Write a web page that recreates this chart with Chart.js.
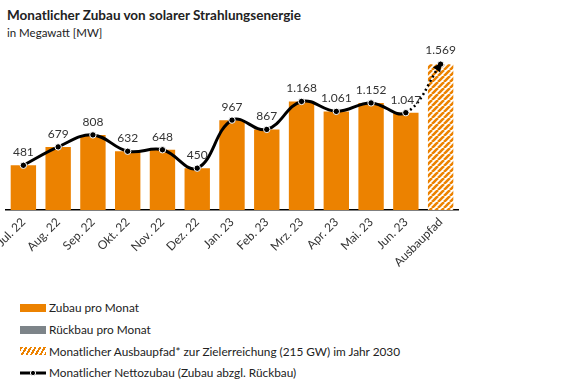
<!DOCTYPE html>
<html>
<head>
<meta charset="utf-8">
<script src="https://cdn.jsdelivr.net/npm/chart.js@4/dist/chart.umd.min.js"></script>
<style>
  body { margin: 0; width: 567px; height: 382px; background: #fff; font-family: Lato, "Open Sans", sans-serif; color: #222; position: relative; overflow: hidden; }
  #title { position: absolute; left: 7px; top: 7px; font-size: 13.5px; font-weight: bold; }
  #sub { position: absolute; left: 7px; top: 26px; font-size: 11.5px; }
  #wrap { position: absolute; left: 0; top: 40px; width: 470px; height: 232px; }
  #legend { position: absolute; left: 20px; top: 297px; font-size: 11.8px; }
  .item { display: flex; align-items: center; height: 21.7px; }
  .sw { width: 26px; height: 8px; margin-right: 3px; }
</style>
</head>
<body>
<div id="title">Monatlicher Zubau von solarer Strahlungsenergie</div>
<div id="sub">in Megawatt [MW]</div>
<div id="wrap"><canvas id="c"></canvas></div>
<div id="legend"></div>
<script>
const months = ["Jul. 22", "Aug. 22", "Sep. 22", "Okt. 22", "Nov. 22", "Dez. 22", "Jan. 23", "Feb. 23", "Mrz. 23", "Apr. 23", "Mai. 23", "Jun. 23"];
const pathLabel = "Ausbaupfad";
const zubau = [481, 679, 808, 632, 648, 450, 967, 867, 1168, 1061, 1152, 1047];
const netto = [481, 679, 808, 632, 648, 450, 967, 867, 1168, 1061, 1152, 1047];
const ausbaupfad = 1569;
const legendLabels = [
  "Zubau pro Monat",
  "Rückbau pro Monat",
  "Monatlicher Ausbaupfad* zur Zielerreichung (215 GW) im Jahr 2030",
  "Monatlicher Nettozubau (Zubau abzgl. Rückbau)"
];

const ORANGE = "#ec8200";
const GREY = "#7d8489";

function stripes() {
  const p = document.createElement("canvas");
  p.width = 6; p.height = 6;
  const g = p.getContext("2d");
  g.fillStyle = "#fff";
  g.fillRect(0, 0, 6, 6);
  g.strokeStyle = ORANGE;
  g.lineWidth = 2.6;
  g.beginPath();
  for (let k = -6; k <= 12; k += 6) {
    g.moveTo(k, 6); g.lineTo(k + 6, 0);
  }
  g.stroke();
  return g.createPattern(p, "repeat");
}
const hatch = stripes();

const fmt = v => v.toLocaleString("de-DE");

// legend (html)
const lg = document.getElementById("legend");
const swatches = [
  `<div class="sw" style="background:${ORANGE}"></div>`,
  `<div class="sw" style="background:${GREY}"></div>`,
  `<div class="sw" style="background:repeating-linear-gradient(-60deg, ${ORANGE} 0 2px, #fff 2px 4px)"></div>`,
  `<svg width="26" height="8" style="margin-right:3px"><line x1="0" y1="4" x2="26" y2="4" stroke="#000" stroke-width="3"/><circle cx="13" cy="4" r="2.6" fill="#000" stroke="#fff" stroke-width="1"/></svg>`
];
legendLabels.forEach((t, i) => {
  lg.innerHTML += `<div class="item">${swatches[i]}<span>${t}</span></div>`;
});

const valueLabels = {
  id: "valueLabels",
  afterDatasetsDraw(chart) {
    const ctx = chart.ctx;
    const pts = chart.getDatasetMeta(0).data;
    // arrow head at end of dotted segment
    const last = pts[pts.length - 1];
    const prev = pts[pts.length - 2];
    const dx = last.x - (last.cp1x ?? prev.x), dy = last.y - (last.cp1y ?? prev.y);
    const a = Math.atan2(dy, dx);
    ctx.save();
    ctx.fillStyle = "#000";
    ctx.translate(last.x, last.y);
    ctx.rotate(a);
    ctx.beginPath();
    ctx.moveTo(2, 0); ctx.lineTo(-7, -4.5); ctx.lineTo(-7, 4.5); ctx.closePath();
    ctx.fill();
    ctx.restore();

    ctx.save();
    ctx.font = "12px Lato, 'Open Sans', sans-serif";
    ctx.fillStyle = "#333";
    ctx.textAlign = "center";
    ctx.textBaseline = "bottom";
    const vals = chart.data.datasets[0].data;
    pts.forEach((p, i) => {
      ctx.fillText(fmt(vals[i]), p.x, p.y - (i === pts.length - 1 ? 8 : 7));
    });
    ctx.restore();
  }
};

new Chart(document.getElementById("c"), {
  data: {
    labels: [...months, pathLabel],
    datasets: [
      {
        type: "line",
        data: [...netto, ausbaupfad],
        borderColor: "#000",
        borderWidth: 3,
        tension: 0.4,
        pointRadius: 3.2,
        pointBackgroundColor: "#000",
        pointBorderColor: "#fff",
        pointBorderWidth: 1,
        segment: {
          borderDash: c => (c.p1DataIndex === months.length ? [2, 3] : undefined),
          borderWidth: c => (c.p1DataIndex === months.length ? 2.5 : 3)
        },
        order: 0
      },
      {
        type: "bar",
        data: [...zubau, ausbaupfad],
        backgroundColor: [...zubau.map(() => ORANGE), hatch],
        barPercentage: 0.73,
        categoryPercentage: 1,
        order: 1
      }
    ]
  },
  options: {
    responsive: true,
    maintainAspectRatio: false,
    animation: false,
    layout: { padding: { left: 6, right: 12, top: 12, bottom: 0 } },
    plugins: { legend: { display: false }, tooltip: { enabled: false } },
    scales: {
      x: {
        grid: { display: false, drawTicks: false },
        border: { color: "#000", width: 1.5 },
        ticks: {
          minRotation: 45, maxRotation: 45, padding: 5,
          color: "#333",
          font: { family: "Lato, 'Open Sans', sans-serif", size: 12 }
        },
        afterFit: s => { s.paddingLeft = 0; s.paddingRight = 0; s.height = 62; }
      },
      y: { display: false, min: 0, max: 1700 }
    }
  },
  plugins: [valueLabels]
});
</script>
</body>
</html>
